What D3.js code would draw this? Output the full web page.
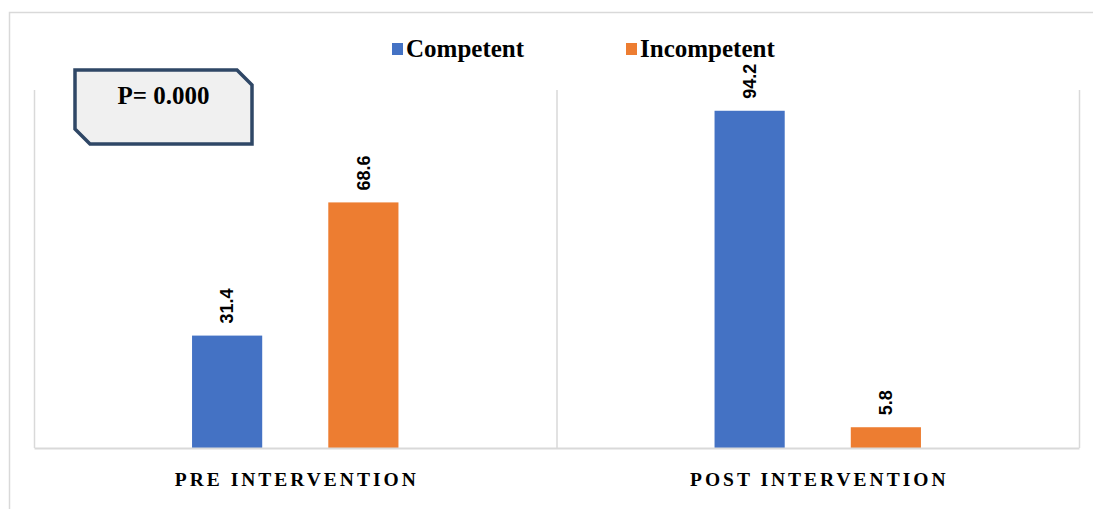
<!DOCTYPE html>
<html>
<head>
<meta charset="utf-8">
<script src="https://cdn.jsdelivr.net/npm/d3@7"></script>
<style>
  body { margin: 0; background: #fff; }
  svg { display: block; }
</style>
</head>
<body>
<script>
// data
const categories = ["PRE INTERVENTION", "POST INTERVENTION"]
const series = ["Competent", "Incompetent"]
const competent = [31.4, 94.2]
const incompetent = [68.6, 5.8]
const pValue = "P= 0.000"

const colors = d3.scaleOrdinal()
    .domain(series)
    .range(["#4472C4", "#ED7D31"])

const w = 1093
const h = 509
const margin = { top: 90, right: 14, bottom: 61, left: 34 }

const svg = d3.select("body")
    .append("svg")
    .attr("width", w)
    .attr("height", h)

// chart area frame (runs off right and bottom like the cropped original)
svg.append("rect")
    .attr("x", 9.5)
    .attr("y", 12.5)
    .attr("width", w + 20)
    .attr("height", h + 20)
    .attr("fill", "#fff")
    .attr("stroke", "#d9d9d9")
    .attr("stroke-width", 1.5)

const x0 = d3.scaleBand()
    .domain(categories)
    .range([margin.left, w - margin.right])
    .paddingInner(0)
    .paddingOuter(0)

const x1 = d3.scaleBand()
    .domain(series)
    .range([0, x0.bandwidth()])
    .paddingInner(0.485)
    .paddingOuter(1.16)

const y = d3.scaleLinear()
    .domain([0, 100])
    .range([h - margin.bottom, margin.top])

// vertical separators between categories
const seps = categories.map(c => x0(c)).concat([x0.range()[1]])
svg.append("g")
    .selectAll("line")
    .data(seps)
    .enter()
    .append("line")
    .attr("x1", d => d + 0.5)
    .attr("x2", d => d + 0.5)
    .attr("y1", y(100))
    .attr("y2", y(0))
    .attr("stroke", "#d9d9d9")
    .attr("stroke-width", 1.5)

const rows = categories.map((c, i) => ({
    cat: c,
    values: [
        { key: "Competent", value: competent[i] },
        { key: "Incompetent", value: incompetent[i] }
    ]
}))

const groups = svg.selectAll("g.cat")
    .data(rows)
    .enter()
    .append("g")
    .attr("class", "cat")
    .attr("transform", d => `translate(${x0(d.cat)},0)`)

groups.selectAll("rect")
    .data(d => d.values)
    .enter()
    .append("rect")
    .attr("x", d => x1(d.key))
    .attr("y", d => y(d.value))
    .attr("width", x1.bandwidth())
    .attr("height", d => y(0) - y(d.value))
    .attr("fill", d => colors(d.key))

groups.selectAll("text")
    .data(d => d.values)
    .enter()
    .append("text")
    .attr("transform", d => `translate(${x1(d.key) + x1.bandwidth() / 2},${y(d.value) - 12}) rotate(-90)`)
    .attr("dy", "0.35em")
    .attr("text-anchor", "start")
    .style("font-family", "'Liberation Sans', Arial, sans-serif")
    .style("font-weight", "bold")
    .style("font-size", "18px")
    .style("fill", "#000")
    .text(d => d.value)

// category axis
const xAxis = svg.append("g")
    .attr("transform", `translate(0,${y(0)})`)
    .call(d3.axisBottom(x0).tickSize(0).tickSizeOuter(0))

xAxis.select(".domain")
    .attr("stroke", "#d9d9d9")
    .attr("stroke-width", 2)

xAxis.selectAll("text")
    .attr("y", 38)
    .attr("dy", 0)
    .attr("dx", 1.5)
    .style("font-family", "'Liberation Serif', 'Times New Roman', serif")
    .style("font-weight", "bold")
    .style("font-size", "19.5px")
    .style("letter-spacing", "3px")
    .style("fill", "#000")

// legend
const legendX = [392, 626]
const legend = svg.selectAll("g.legend")
    .data(series)
    .enter()
    .append("g")
    .attr("class", "legend")
    .attr("transform", (d, i) => `translate(${legendX[i]},57)`)

legend.append("rect")
    .attr("x", 0)
    .attr("y", -14)
    .attr("width", 11)
    .attr("height", 12)
    .attr("fill", d => colors(d))

legend.append("text")
    .attr("x", 14)
    .attr("y", 0)
    .style("font-family", "'Liberation Serif', 'Times New Roman', serif")
    .style("font-weight", "bold")
    .style("font-size", "25px")
    .style("fill", "#000")
    .text(d => d)

// p-value callout box with two snipped corners
const bx = 75, by = 70, bw = 177, bh = 74, cut = 15
const boxPath = d3.path()
boxPath.moveTo(bx, by)
boxPath.lineTo(bx + bw - cut, by)
boxPath.lineTo(bx + bw, by + cut)
boxPath.lineTo(bx + bw, by + bh)
boxPath.lineTo(bx + cut, by + bh)
boxPath.lineTo(bx, by + bh - cut)
boxPath.closePath()

svg.append("path")
    .attr("d", boxPath.toString())
    .attr("fill", "#f0f0f0")
    .attr("stroke", "#2f4766")
    .attr("stroke-width", 3.5)
    .attr("stroke-linejoin", "miter")

svg.append("text")
    .attr("x", bx + bw / 2)
    .attr("y", 104)
    .attr("text-anchor", "middle")
    .style("font-family", "'Liberation Serif', 'Times New Roman', serif")
    .style("font-weight", "bold")
    .style("font-size", "25px")
    .style("fill", "#000")
    .text(pValue)
</script>
</body>
</html>
